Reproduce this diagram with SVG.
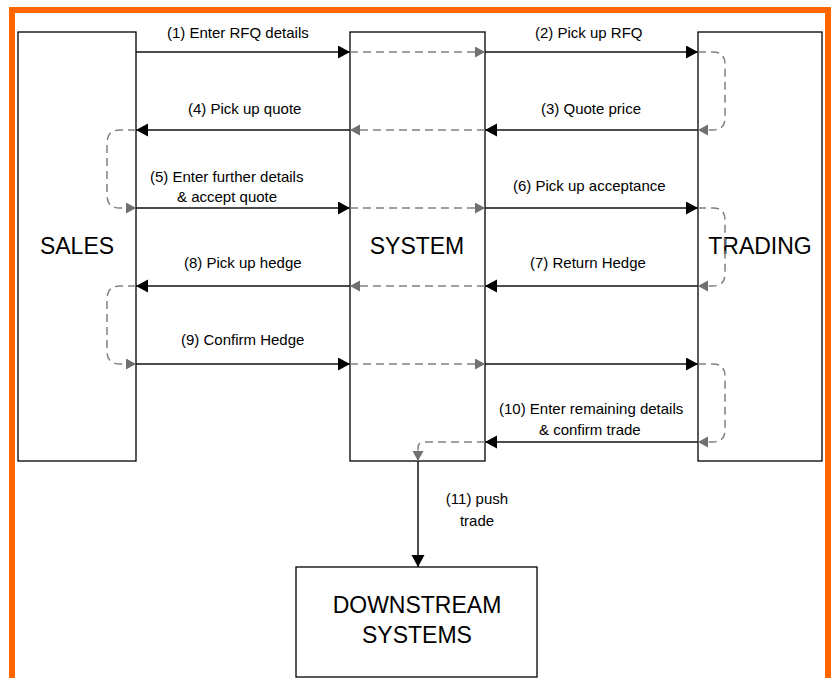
<svg xmlns="http://www.w3.org/2000/svg" width="833" height="678" viewBox="0 0 833 678">
  <defs>
    <marker id="head" markerUnits="userSpaceOnUse" markerWidth="13" markerHeight="14" refX="12" refY="6.5" orient="auto">
      <path d="M0,0 L12,6.5 L0,13 Z" fill="#000"/>
    </marker>
    <marker id="headGrey" markerUnits="userSpaceOnUse" markerWidth="12" markerHeight="12" refX="10" refY="5.5" orient="auto">
      <path d="M0,0 L10,5.5 L0,11 Z" fill="#707070"/>
    </marker>
    <style>
      .box { fill: #fff; stroke: #000; stroke-width: 1.3; }
      .big { font-family: "Liberation Sans", Arial, sans-serif; font-size: 23px; fill: #000; text-anchor: middle; }
      .lbl { font-family: "Liberation Sans", Arial, sans-serif; font-size: 15px; fill: #000; }
      .mid { text-anchor: middle; }
      .solid { fill: none; stroke: #111; stroke-width: 1.5; marker-end: url(#head); }
      .dash { fill: none; stroke: #808080; stroke-width: 1.5; stroke-dasharray: 8 5; marker-end: url(#headGrey); }
    </style>
  </defs>

  <rect width="833" height="678" fill="#fff"/>
  <!-- frame -->
  <rect x="12" y="10" width="816" height="700" fill="none" stroke="#ff6600" stroke-width="6"/>

  <!-- nodes -->
  <g id="sales">
    <rect class="box" x="18" y="32" width="118" height="429"/>
    <text class="big" x="77" y="254">SALES</text>
  </g>
  <g id="system">
    <rect class="box" x="350" y="32" width="135" height="429"/>
    <text class="big" x="417" y="254">SYSTEM</text>
  </g>
  <g id="trading">
    <rect class="box" x="698" y="32" width="124" height="429"/>
    <text class="big" x="760" y="254">TRADING</text>
  </g>
  <g id="downstream">
    <rect class="box" x="296" y="567" width="241" height="110"/>
    <text class="big" x="417" y="613">DOWNSTREAM</text>
    <text class="big" x="417" y="643">SYSTEMS</text>
  </g>

  <!-- connectors -->
  <g id="connectors">
    <!-- row 1 -->
    <line class="solid" x1="136" y1="52" x2="350" y2="52"/>
    <line class="dash" x1="350" y1="52" x2="485" y2="52"/>
    <line class="solid" x1="485" y1="52" x2="698" y2="52"/>
    <path class="dash" d="M698,52 H713 Q725,52 725,64 V118 Q725,130 713,130 H698"/>
    <!-- row 2 -->
    <line class="solid" x1="698" y1="130" x2="485" y2="130"/>
    <line class="dash" x1="485" y1="130" x2="350" y2="130"/>
    <line class="solid" x1="350" y1="130" x2="136" y2="130"/>
    <path class="dash" d="M136,130 H120 Q107,130 107,143 V195 Q107,208 120,208 H136"/>
    <!-- row 3 -->
    <line class="solid" x1="136" y1="208" x2="350" y2="208"/>
    <line class="dash" x1="350" y1="208" x2="485" y2="208"/>
    <line class="solid" x1="485" y1="208" x2="698" y2="208"/>
    <path class="dash" d="M698,208 H713 Q725,208 725,220 V274 Q725,286 713,286 H698"/>
    <!-- row 4 -->
    <line class="solid" x1="698" y1="286" x2="485" y2="286"/>
    <line class="dash" x1="485" y1="286" x2="350" y2="286"/>
    <line class="solid" x1="350" y1="286" x2="136" y2="286"/>
    <path class="dash" d="M136,286 H120 Q107,286 107,299 V351 Q107,364 120,364 H136"/>
    <!-- row 5 -->
    <line class="solid" x1="136" y1="364" x2="350" y2="364"/>
    <line class="dash" x1="350" y1="364" x2="485" y2="364"/>
    <line class="solid" x1="485" y1="364" x2="698" y2="364"/>
    <path class="dash" d="M698,364 H713 Q725,364 725,376 V430 Q725,442 713,442 H698"/>
    <!-- row 6 -->
    <line class="solid" x1="698" y1="442" x2="485" y2="442"/>
    <path class="dash" d="M485,442 H424 Q418,442 418,448 V461"/>
    <!-- push to downstream -->
    <line class="solid" x1="418" y1="461" x2="418" y2="567"/>
  </g>

  <!-- connector labels -->
  <g id="labels">
    <text class="lbl" x="167" y="37.5">(1) Enter RFQ details</text>
    <text class="lbl" x="535" y="37.5">(2) Pick up RFQ</text>
    <text class="lbl" x="541" y="113.5">(3) Quote price</text>
    <text class="lbl" x="188" y="113.5">(4) Pick up quote</text>
    <text class="lbl" x="150" y="181.5">(5) Enter further details</text>
    <text class="lbl" x="177" y="201.5">&amp; accept quote</text>
    <text class="lbl" x="513" y="191">(6) Pick up acceptance</text>
    <text class="lbl" x="530" y="268">(7) Return Hedge</text>
    <text class="lbl" x="184" y="268">(8) Pick up hedge</text>
    <text class="lbl" x="181" y="345">(9) Confirm Hedge</text>
    <text class="lbl" x="499" y="414">(10) Enter remaining details</text>
    <text class="lbl" x="539" y="434.5">&amp; confirm trade</text>
    <text class="lbl mid" x="477" y="504">(11) push</text>
    <text class="lbl mid" x="477" y="526">trade</text>
  </g>
</svg>
